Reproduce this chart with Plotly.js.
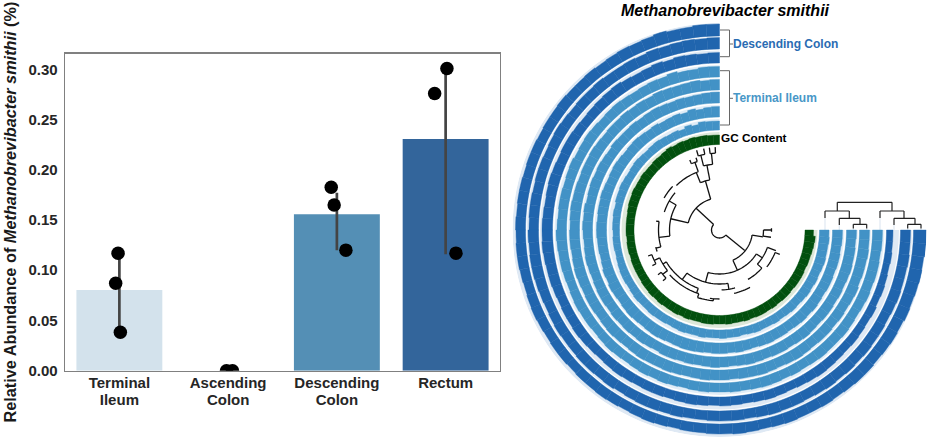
<!DOCTYPE html>
<html><head><meta charset="utf-8">
<script src="https://cdn.plot.ly/plotly-3.0.1.min.js"></script>
<style>html,body{margin:0;padding:0;background:#fff}#c{width:930px;height:441px}</style>
</head><body><div id="c"></div>
<script>
// ---------- Bar panel ----------
const sites = ['Terminal<br>Ileum','Ascending<br>Colon','Descending<br>Colon','Rectum'];
const sitePos = [0,1,2,3];
const meanAbundance = [0.0803,0,0.1556,0.2307];
const errUp = [0.0365,0,0.0215,0.0655];
const errDown = [0.0403,0,0.0356,0.1147];
const barColors = ['#d3e2ec','#d3e2ec','#548fb5','#33659b'];
const sampleX = [-0.012,-0.034,0.009,-0.015,0.04,-0.052,-0.025,0.083,0.012,-0.101,0.095];
const sampleGroup = [0,0,0,1,1,2,2,2,3,3,3];
const sampleY = [0.1168,0.087,0.0382,0,0,0.1825,0.165,0.12,0.3007,0.2758,0.117];
const yTicks = [0,0.05,0.1,0.15,0.2,0.25,0.3];

// ---------- Circular heat map ----------
const ringColors = ['#2065ae','#2065ae','#2065ae','#4292c6','#4292c6','#4292c6','#4292c6','#4292c6','#02500e'];
const trackColors = ['#dfe9f4','#dfe9f4','#dfe9f4','#e1edf7','#e1edf7','#e1edf7','#e1edf7','#e1edf7','#dde8da'];
const ringBase = [194,181,167,153,140,127,113,100,85.5];
const trackDepth = [13,11.7,12.5,12,11.5,11.5,12,11,12.5];
const binWidth = 3.75;
const ring1 = [12,12,11,11,12,11,10.5,11,10.5,10,10.5,10, 10,10.5,10,10,9.5,10,10,9.5,10,10,9.5,10, 9.5,10,10,9.5,9,9.5,10,9.5,9,9.5,9.5,9, 9.5,9.5,10,9.5,9,9.5,10,9.5,9,9.5,9.5,10, 10,10.5,10,9.5,10,10.5,10,10,10.5,10,10.5,11, 11,10.5,11,11.5,11,12,11.5,12,12.5,12,13,13];
const ring2 = [11.5,11,11.5,11,10.5,11,10,10.5,10,10,10.5,10, 10,9.5,10,10.5,10,9.5,10,10,9.5,10,10,9.5, 10.5,10,10.5,10.5,10,9.5,9,9.5,10,9.5,9.5,10, 10,9.5,10,9,9.5,10,10,9.5,10,9.5,9.5,10, 10,10,9.5,10,10.5,10,10,9.5,10,10.5,10,10.5, 10,10.5,10,10,9.5,10,10.5,10,10,10.5,10,10];
const ring3 = [10.5,10,10.5,11,10,11,10,9.5,10,11,10.5,10, 9.5,9,9.5,10,10,9.5,10,10.5,10,9.5,10,10.5, 10.5,11,10.5,10,10,9.5,9,9.5,9.5,10,9.5,9, 8.5,9,9.5,9,8.5,9,9,8.5,9,9.5,9,8.5, 9,8.5,8,8.5,9,8.5,8,8.5,9,9.5,9,8.5, 8,8.5,8,7.5,8,7,7.5,7,6.5,7,6.5,6.5];
const ring4 = [10.5,10.5,9.5,9.5,11,9.5,10,9.5,9,9.5,10,9.5, 9,9.5,10,9.5,9,10,9.5,9,9.5,9.5,9,9.5, 10.5,10,9.5,9.5,9,8.5,9,9.5,9,9,8.5,9, 9.5,9,8.5,9,9.5,9,9.5,9,8.5,9,9.5,9, 9,9.5,9,9.5,10,9.5,9,9.5,9,9.5,10,9.5, 9.5,10,9.5,9,9.5,10,9.5,10,10,9.5,10,10];
const ring5 = [10.5,10,11,10.5,10,10.5,11,10,10.5,10,10.5,10, 10,9.5,10,10.5,10,10,9.5,10,10,10.5,10,9.5, 10,10,9.5,10,10.5,10,9.5,10,10,9.5,10,10.5, 10,9.5,10,10.5,10,10,10.5,10,9.5,10,10.5,10, 10,9.5,10,10,10.5,10,9.5,10,10.5,10,9.5,10, 10,9.5,10,9.5,10,10.5,9.5,10,10,10.5,10,10];
const ring6 = [11,10.5,10,9.5,10,9.5,10,10.5,10,9.5,10,9.5, 9.5,10,9,9.5,10,9.5,10,9.5,9,10,9.5,10, 9.5,9,9.5,10,9.5,9,9.5,10,10,9.5,10,9.5, 10,9.5,10,9.5,9,10,10,9.5,10,9.5,10,10.5, 10,9.5,10,10.5,10,9.5,10,10,9.5,10,10.5,10, 9.5,10,10,9.5,10,9.5,10,10.5,10,10,9.5,10];
const ring7 = [10.5,10,9,10.5,9,10,9.5,9,10,9.5,10,10.5, 10,9.5,10,10.5,10,9.5,10,10.5,10,10,9.5,10, 10,9.5,9.5,9,9.5,10.5,10,11,10.5,10,10.5,11, 10.5,10,10.5,11,10.5,10,10.5,11,11,10.5,10,10.5, 10.5,10,10.5,10,9.5,10,10.5,10,10,9.5,10,10.5, 10,10.5,10,9.5,10,10,9.5,10,10,9.5,10,10];
const ring8 = [9,9,9.5,7.5,9,7,8,7.5,8,8.5,8,7.5, 8,8.5,8,7.5,8,8.5,8,8,7,7.5,7,7, 6.5,7,7,6.5,7,7.5,8,8,7.5,8,8.5,8, 8,8.5,8,8,7.5,8,8.5,8,8,8.5,8,8, 8.5,8,8,7.5,8,8.5,8,8,8.5,8,8.5,9, 8.5,9,9.5,9,9.5,9,9.5,10,9.5,9.5,10,9.5];
const gcRing = [9.5,9.5,10,10,10.5,10,10.5,10,11,10,9.5,9.5, 9,9,9.5,9,9,9.5,9,9,8.5,8,8,8, 8,7.5,8,8,7.5,8,8,8,8,8.5,8.5,9, 8.5,9,8.5,8.5,9,8.5,9,8.5,8.5,9,9,8.5, 8.5,9,8.5,8.5,9,8.5,9,9,8.5,9,8.5,9, 9,8.5,9,9,9,8.5,9,9,9.5,10,10.5,8.5];
const rings = [ring1,ring2,ring3,ring4,ring5,ring6,ring7,ring8,gcRing];

// Inner (circular) sample tree: [radius, angleFrom, angleTo] and [angle, radiusFrom, radiusTo]
const treeArcs = [[8,137,321],[32,106,167],[51,101,112],[66,96,104],[77,93,97],[77,101,106],[62,110,134],[72,108,113],
 [50,150,187],[58,140,162],[64,137,150],[61,172,196],[66,195,199],
 [33,294,351],[44,352,360],[52,358,362],[44,255,327],[51,318,340],[57,300,318],[60,322,338],[65,283,298],
 [54,233,279],[60,272,285],[62,211,250],[66,205,218],[72,200,208],[72,216,222],[67,222,252],[71,252,265],[69,262,270]];
const treeRadials = [[137,8,32],[321,8,32.5],[106,32,51],[167,32,50],[101,51,66],[96,66,77],[104,66,77],[93,77,83],[97,77,83],[101,77,83],[106,77,83],
 [112,51,62],[110,62,72],[108,72,76],[113,72,76],[150,50,58],[187,50,61],[172,61,64],[196,61,66],
 [351,33,44],[352,44,52],[360,44,52],[294,33,44],[327,44,51],[318,51,57],[340,51,60],[338,60,65],
 [255,44,54],[233,54,62],[279,54,60],[211,62,66],[205,66,72],[218,66,72],[200,72,76],[208,72,76],[216,72,76],[222,72,76],[250,62,67],[252,67,71],[265,69,71]];

// Ring-sample dendrogram above the open end of the rings
const dendroX = [117.8,117.8,null,129.8,129.8,null,105.5,105.5,null,105.5,129.8,null,117.8,172.5,null,172.5,172.5,null,160.5,184.5,null,160.5,160.5,null,184.5,184.5,null,174.5,195.5,null,174.5,174.5,null,195.5,195.5,null,188.2,201.5,null,188.2,188.2,null,201.5,201.5,null,119.8,140.5,null,119.8,119.8,null,140.5,140.5,null,133.8,147.2,null,133.8,133.8,null,147.2,147.2];
const dendroY = [27.7,19,null,19,11.7,null,19,12,null,19,19,null,27.7,27.7,null,27.7,19,null,19,19,null,19,12,null,19,11.7,null,11.7,11.7,null,11.7,5,null,11.7,5.7,null,5.7,5.7,null,5.7,1.5,null,5.7,1.5,null,11.7,11.7,null,11.7,5,null,11.7,5.7,null,5.7,5.7,null,5.7,1.5,null,5.7,1.5];
const leafDropX = [105.5,105.5,null,119.8,119.8,null,133.8,133.8,null,147.2,147.2,null,160.5,160.5,null,174.5,174.5,null,188.2,188.2,null,201.5,201.5];
const leafDropY = [12,0,null,5,0,null,1.5,0,null,1.5,0,null,12,0,null,5,0,null,1.5,0,null,1.5,0];
const bracketX = [0.5,10,10,0.5,null,10,13.5,null,0.5,10,10,0.5,null,10,13.5];
const bracketY = [200,200,173.3,173.3,null,186,186,null,159.3,159.3,105,105,null,131.7,131.7];

const leafTheta = ring1.map((_,i)=>90+binWidth*(i+0.5));
const treeR=[],treeT=[];
treeArcs.forEach(([r,a,b])=>{for(let t=a;t<b;t+=2){treeR.push(r);treeT.push(t);}treeR.push(r,null);treeT.push(b,null);});
treeRadials.forEach(([t,a,b])=>{treeR.push(a,b,null);treeT.push(t,t,null);});

const traces = [
 {type:'bar',x:sitePos,y:meanAbundance,width:0.79,marker:{color:barColors,line:{width:0}},
  error_y:{type:'data',symmetric:false,array:errUp,arrayminus:errDown,width:0,thickness:2.7,color:'#444444'},hoverinfo:'skip',showlegend:false,xaxis:'x',yaxis:'y'},
 {type:'scatter',mode:'markers',x:sampleX.map((d,i)=>sampleGroup[i]+d),y:sampleY,marker:{color:'#000',size:13.5},hoverinfo:'skip',showlegend:false,xaxis:'x',yaxis:'y',cliponaxis:true},
 {type:'scatter',mode:'lines',x:leafDropX,y:leafDropY,line:{color:'#dfe8f2',width:1.2},connectgaps:false,hoverinfo:'skip',showlegend:false,xaxis:'x2',yaxis:'y2'},
 {type:'scatter',mode:'lines',x:dendroX,y:dendroY,line:{color:'#222',width:1.2},connectgaps:false,hoverinfo:'skip',showlegend:false,xaxis:'x2',yaxis:'y2'},
 {type:'scatter',mode:'lines',x:bracketX,y:bracketY,line:{color:'#666',width:1},connectgaps:false,hoverinfo:'skip',showlegend:false,xaxis:'x2',yaxis:'y2'},
 {type:'barpolar',theta:rings.map(()=>225),width:rings.map(()=>270),r:trackDepth,base:ringBase,marker:{color:trackColors,line:{width:0}},hoverinfo:'skip',showlegend:false,subplot:'polar'}
];
rings.forEach((vals,i)=>traces.push({type:'barpolar',theta:leafTheta,width:vals.map(()=>binWidth),r:vals,base:vals.map(()=>ringBase[i]),
  marker:{color:ringColors[i],line:{color:ringColors[i],width:0.4}},hoverinfo:'skip',showlegend:false,subplot:'polar'}));
traces.push({type:'scatterpolar',mode:'lines',r:treeR,theta:treeT,line:{color:'#111',width:1.3},connectgaps:false,hoverinfo:'skip',showlegend:false,subplot:'polar'});

const W=930,H=441,F='"Liberation Sans", Arial, sans-serif';
const layout = {
 width:W,height:H,margin:{l:0,r:0,t:0,b:0},paper_bgcolor:'#fff',plot_bgcolor:'#fff',showlegend:false,
 font:{family:F,color:'#262626'},
 title:{text:'<b><i>Methanobrevibacter smithii</i></b>',x:725/W,xanchor:'center',y:1-10.5/H,yanchor:'middle',font:{size:16,color:'#000',family:F}},
 xaxis:{domain:[65/W,500/W],range:[-0.5,3.5],tickvals:sitePos,ticktext:sites,ticks:'',showgrid:false,zeroline:false,showline:true,mirror:true,linecolor:'#808080',linewidth:1.3,tickfont:{size:15,weight:'bold',color:'#262626',family:F},anchor:'y',fixedrange:true},
 yaxis:{domain:[1-370.7/H,1-53.5/H],range:[0,0.3157],tickvals:yTicks,tickformat:'.2f',ticks:'',ticklabelstandoff:3,showgrid:false,zeroline:false,showline:true,mirror:true,linecolor:'#808080',linewidth:1.3,tickfont:{size:15,weight:'bold',color:'#262626',family:F},anchor:'x',fixedrange:true,
   title:{text:'<b>Relative Abundance of <i>Methanobrevibacter smithii</i> (%)</b>',font:{size:16.3,color:'#1a1a1a',family:F},standoff:7}},
 xaxis2:{domain:[512.5/W,926.5/W],range:[-207,207],visible:false,anchor:'y2',fixedrange:true},
 yaxis2:{domain:[1-437/H,1-23/H],range:[-207,207],visible:false,anchor:'x2',fixedrange:true},
 polar:{domain:{x:[512.5/W,926.5/W],y:[1-437/H,1-23/H]},bgcolor:'rgba(0,0,0,0)',barmode:'overlay',
   radialaxis:{range:[0,207],visible:false},angularaxis:{visible:false,direction:'counterclockwise',rotation:0}},
 annotations:[
  {text:'<b>Descending Colon</b>',xref:'paper',yref:'paper',x:731/W,y:1-44/H,xanchor:'left',yanchor:'middle',showarrow:false,font:{size:12,color:'#2a6cb3',family:F}},
  {text:'<b>Terminal Ileum</b>',xref:'paper',yref:'paper',x:731/W,y:1-98/H,xanchor:'left',yanchor:'middle',showarrow:false,font:{size:12,color:'#4897c7',family:F}},
  {text:'<b>GC Content</b>',xref:'paper',yref:'paper',x:719/W,y:1-138/H,xanchor:'left',yanchor:'middle',showarrow:false,font:{size:11.8,color:'#000',family:F}}
 ]
};
Plotly.newPlot('c',traces,layout,{staticPlot:true,displayModeBar:false}).then(()=>{
  // tighter line spacing of the two-line category labels (second line only)
  document.querySelectorAll('.xtick text tspan.line').forEach(t=>{
    if(parseFloat(t.getAttribute('dy'))>0) t.setAttribute('dy','1.11em');
  });
  document.querySelectorAll('.xtick text').forEach(t=>{
    const c=t.getAttribute('transform')||'';
    t.setAttribute('transform',c+' translate(0,-2)');
  });
});
</script></body></html>
